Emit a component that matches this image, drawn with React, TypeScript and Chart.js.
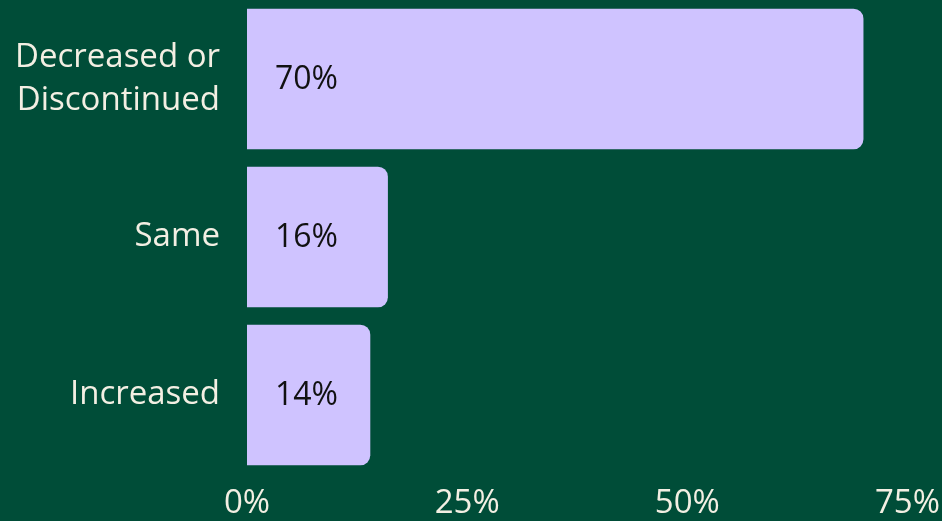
import React, { useEffect, useRef } from "react";
import { Chart, registerables } from "chart.js";

Chart.register(...registerables);

const categories: (string | string[])[] = [["Decreased or", "Discontinued"], "Same", "Increased"];
const values: number[] = [70, 16, 14];
const valueLabels: string[] = ["70%", "16%", "14%"];
const xTicks: number[] = [0, 25, 50, 75];

const BG = "#004d38";
const BAR = "#cfc3ff";
const TEXT = "#f3efe3";
const FONT = "'Open Sans', Lato, sans-serif";

export default function App() {
  const ref = useRef<HTMLCanvasElement | null>(null);
  useEffect(() => {
    if (!ref.current) return;
    const labelPlugin = {
      id: "inLabels",
      afterDatasetsDraw(chart: any) {
        const { ctx } = chart;
        const meta = chart.getDatasetMeta(0);
        ctx.save();
        ctx.fillStyle = "#111111";
        ctx.font = `32px ${FONT}`;
        ctx.textAlign = "left";
        ctx.textBaseline = "middle";
        meta.data.forEach((bar: any, i: number) => {
          ctx.fillText(valueLabels[i], bar.base + 28, bar.y + 1);
        });
        ctx.restore();
      },
    };
    const chart = new Chart(ref.current, {
      type: "bar",
      data: {
        labels: categories,
        datasets: [
          {
            data: values,
            backgroundColor: BAR,
            borderRadius: 10,
            borderSkipped: "start",
            categoryPercentage: 0.89,
            barPercentage: 1,
          },
        ],
      },
      options: {
        indexAxis: "y",
        animation: false,
        responsive: false,
        maintainAspectRatio: false,
        layout: { padding: { top: 0, right: 33, bottom: 0, left: 0 } },
        plugins: { legend: { display: false }, tooltip: { enabled: false } },
        scales: {
          x: {
            min: 0,
            max: 75,
            grid: { display: false },
            border: { display: false },
            afterFit: (scale: any) => {
              scale.height = 47;
            },
            ticks: {
              stepSize: 25,
              color: TEXT,
              padding: 2,
              maxRotation: 0,
              font: { family: FONT, size: 33 },
              callback: (v: any) => (xTicks.includes(Number(v)) ? `${v}%` : ""),
            },
          },
          y: {
            grid: { display: false },
            border: { display: false },
            afterFit: (scale: any) => {
              scale.width = 247;
              scale.paddingTop = 0;
              scale.paddingBottom = 0;
            },
            ticks: {
              color: TEXT,
              padding: 19,
              font: { family: FONT, size: 33, lineHeight: 1.3 },
            },
          },
        },
      },
      plugins: [labelPlugin],
    });
    return () => chart.destroy();
  }, []);
  return (
    <div style={{ position: "fixed", left: 0, top: 0, width: 942, height: 521, background: BG }}>
      <canvas ref={ref} width={942} height={521} style={{ display: "block" }} />
    </div>
  );
}
